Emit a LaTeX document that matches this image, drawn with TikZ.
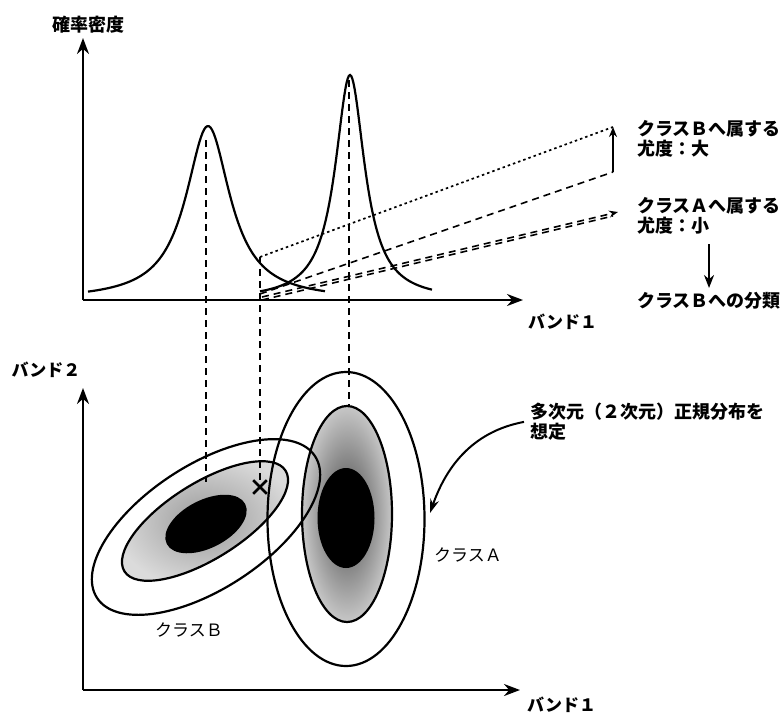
\documentclass[tikz,border=0pt]{standalone}
\usepackage{fontspec}
\setmainfont{Noto Sans CJK JP}
\usetikzlibrary{positioning,arrows.meta,shapes.misc}
\tikzset{
  axis/.style={-{Stealth[length=16pt,width=12pt]},line width=2.2pt},
  curve/.style={line width=2.2pt},
  guide/.style={dash pattern=on 7pt off 5pt,line width=1.6pt},
  dotline/.style={dash pattern=on 2.5pt off 3pt,line width=1.7pt},
  rim/.style={line width=2.2pt},
  pointer/.style={-{Stealth[length=10pt,width=8pt]},line width=1.8pt},
  lbl/.style={font=\fontsize{17}{20}\selectfont\bfseries,inner sep=0pt},
  clslbl/.style={font=\fontsize{17}{20}\selectfont,inner sep=0pt},
  boldlbl/.style={font=\fontsize{18}{20}\selectfont\bfseries,align=left,inner sep=0pt},
}
\begin{document}
\begin{tikzpicture}[x=1pt,y=-1pt]
  \useasboundingbox (0,0) rectangle (783,715);
  \coordinate (o1) at (83,300);
  \coordinate (y1) at (83,38);
  \coordinate (x1) at (523,300);
  \draw[axis] (o1) -- (y1);
  \draw[axis] (o1) -- (x1);
  \node[boldlbl] (dens) at (88,25) {確率密度};
  \node[lbl,anchor=west] (band1a) at (528,322) {バンド１};
  \draw[curve] plot[domain=88:325,samples=150] (\x,{300-174/(1+((\x-208)/27)^2)});
  \draw[curve] plot[domain=260:432,samples=150] (\x,{300-225/(1+((\x-350)/18)^2)});
  \coordinate (pkB) at (206,140);
  \coordinate (pkA) at (349,80);
  \coordinate (onB) at (260,257);
  \coordinate (onA) at (260,294);
  \coordinate (baseA) at (262,297);
  \coordinate (baseB) at (262,300);
  \coordinate (hiB) at (613,127);
  \coordinate (loB) at (613,172);
  \coordinate (tipA) at (618,212);
  \coordinate (tipA2) at (613,216);
  \draw[dotline] (onB) -- (hiB);
  \draw[guide] (onA) -- (loB);
  \draw[pointer] (loB) -- (hiB);
  \draw[guide,-{Stealth[length=9pt,width=7pt]}] (baseA) -- (tipA);
  \draw[guide] (baseB) -- (tipA2);
  \node[boldlbl,anchor=north west] (likeB) at (637,120) {クラスＢへ属する\\尤度：大};
  \node[boldlbl,anchor=north west] (likeA) at (637,197) {クラスＡへ属する\\尤度：小};
  \node[boldlbl,anchor=north west] (toB) at (637,292) {クラスＢへの分類};
  \draw[-{Stealth[length=13pt,width=10pt]},line width=2.2pt]
    ([yshift=-10pt]likeA.south -| toB.north) -- ([yshift=4pt]toB.north);
  \coordinate (o2) at (83,690);
  \coordinate (y2) at (83,388);
  \coordinate (x2) at (520,690);
  \draw[axis] (o2) -- (y2);
  \draw[axis] (o2) -- (x2);
  \node[lbl] (band2) at (46,370) {バンド２};
  \node[lbl,anchor=west] (band1b) at (527,705) {バンド１};
  \shade[inner color=black!40,outer color=black!14,rotate around={32:(205,521)}]
    (205,521) ellipse [x radius=95,y radius=38];
  \shade[inner color=black!72,outer color=black!22]
    (347,514) ellipse [x radius=45,y radius=108];
  \fill[black,rotate around={27:(206,524)}] (206,524) ellipse [x radius=44,y radius=24];
  \fill[black] (346,518) ellipse [x radius=28.5,y radius=50];
  \draw[rim,rotate around={33:(206,527)}] (206,527) ellipse [x radius=130,y radius=62];
  \draw[rim,rotate around={32:(205,521)}] (205,521) ellipse [x radius=95,y radius=38];
  \draw[rim] (346,519) ellipse [x radius=78.5,y radius=147];
  \draw[rim] (347,514) ellipse [x radius=45,y radius=108];
  \node[cross out,draw,line width=2.6pt,minimum size=11pt,inner sep=0pt] (xm) at (260,487) {};
  \coordinate (cB) at (206,482);
  \coordinate (cA) at (349,407);
  \draw[guide] (pkB) -- (cB);
  \draw[guide] (onB) -- (xm);
  \draw[guide] (pkA) -- (cA);
  \node[clslbl] (clsB) at (189,630) {クラスＢ};
  \node[clslbl] (clsA) at (468,555) {クラスＡ};
  \node[boldlbl,anchor=north west] (note) at (530,403) {多次元（２次元）正規分布を\\想定};
  \coordinate (tipN) at (430,513);
  \draw[-{Stealth[length=14pt,width=9pt]},line width=2pt]
    ([xshift=-6pt]note.west) .. controls (470,432) and (445,470) .. (tipN);
\end{tikzpicture}
\end{document}
